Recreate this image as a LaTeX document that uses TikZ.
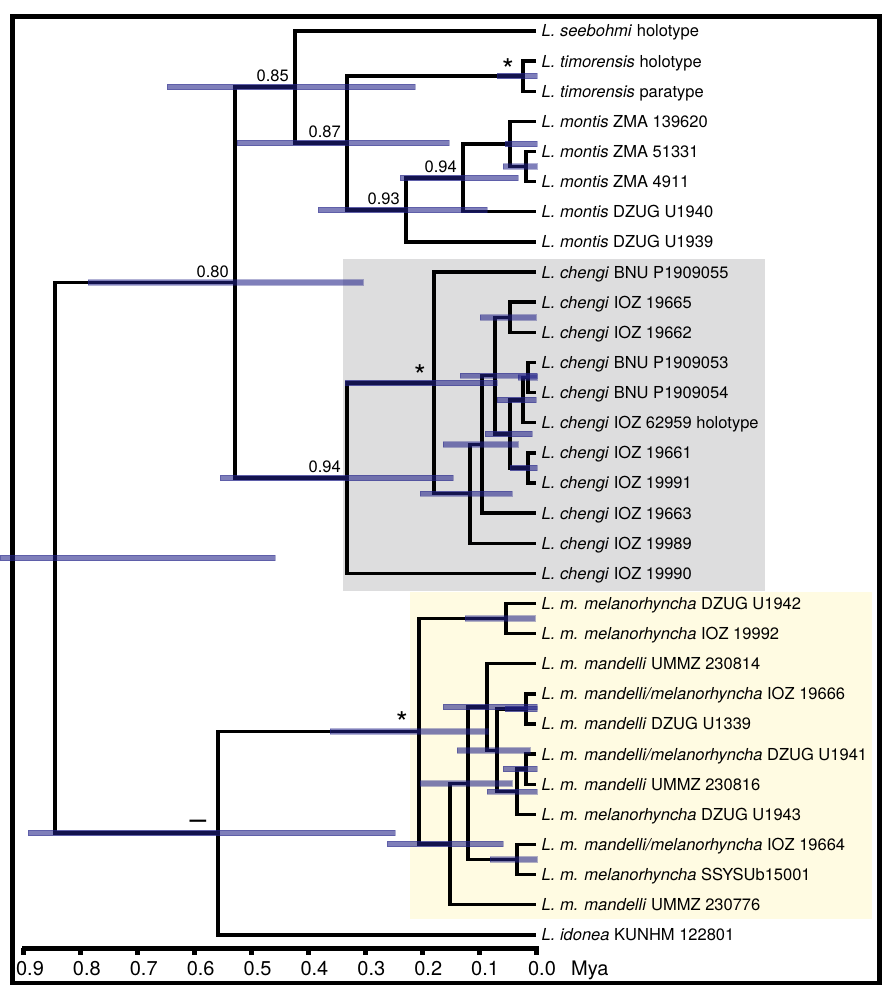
\documentclass[tikz,border=0pt]{standalone}
\usepackage{fontspec}
\setmainfont{TeX Gyre Heros}
\definecolor{barc}{RGB}{34,34,136}
\definecolor{graybg}{RGB}{221,221,222}
\definecolor{yellowbg}{RGB}{255,251,226}
\newcommand\errbar[3]{\path[hpd] (#1,{rowy(#3)-2.7}) rectangle (#2,{rowy(#3)+2.7});}
\begin{document}
\begin{tikzpicture}[x=1pt,y=-1pt,
  declare function={rowy(\q)=31+(\q-1)*30.13;},
  br/.style={line width=3.4pt, line join=miter},
  hpd/.style={fill=barc, fill opacity=0.58, draw=barc, draw opacity=0.35, line width=0.8pt},
  leaf/.style={anchor=base west, inner sep=0pt, font=\fontsize{16.5}{18}\selectfont},
  sup/.style={anchor=south east, inner sep=0pt, font=\fontsize{16.5}{18}\selectfont},
  starl/.style={anchor=base, inner sep=0pt, font=\fontsize{30}{32}\selectfont},
  axl/.style={anchor=base, inner sep=0pt, font=\fontsize{20}{22}\selectfont}]
\useasboundingbox (0,0) rectangle (890,998);
% backgrounds
\fill[graybg] (343,259) rectangle (765,591);
\fill[yellowbg] (410,592) rectangle (872,919);
% frame
\draw[line width=4.5pt] (12.5,16.5) rectangle (879.5,983);
% tips
\foreach \k in {1,...,31} {\coordinate (t\k) at (536,{rowy(\k)});}
% internal nodes
\coordinate (nT) at (523,{rowy(2.5)});
\coordinate (nZ2) at (526,{rowy(5.5)});
\coordinate (nZ1) at (510,{rowy(4.75)});
\coordinate (nM94) at (463,{rowy(5.875)});
\coordinate (nM93) at (406,{rowy(6.9375)});
\coordinate (n87) at (347,{rowy(4.71875)});
\coordinate (n85) at (295,{rowy(2.859375)});
\coordinate (nh) at (528,{rowy(12.5)});
\coordinate (nf) at (523,{rowy(13.25)});
\coordinate (ng) at (528,{rowy(15.5)});
\coordinate (ne) at (510,{rowy(14.375)});
\coordinate (nd) at (510,{rowy(10.5)});
\coordinate (nc) at (495,{rowy(12.4375)});
\coordinate (nb) at (482,{rowy(14.71875)});
\coordinate (na) at (470,{rowy(16.359375)});
\coordinate (ns) at (434,{rowy(12.6796875)});
\coordinate (nc0) at (347,{rowy(15.83984375)});
\coordinate (n80) at (235,{rowy(9.349609375)});
\coordinate (b1) at (506,{rowy(20.5)});
\coordinate (bm1) at (526,{rowy(23.5)});
\coordinate (bm2) at (526,{rowy(25.5)});
\coordinate (bx) at (517,{rowy(26.25)});
\coordinate (by) at (497,{rowy(24.875)});
\coordinate (bz) at (487,{rowy(23.4375)});
\coordinate (bw) at (517,{rowy(28.5)});
\coordinate (bv) at (468,{rowy(25.96875)});
\coordinate (bu) at (450,{rowy(27.984375)});
\coordinate (bs) at (419,{rowy(24.2421875)});
\coordinate (bd) at (218,{rowy(27.62109375)});
\coordinate (root) at (55,{rowy(18.4853515625)});
% branches
\draw[br] (t2) -| (nT) |- (t3);
\draw[br] (t5) -| (nZ2) |- (t6);
\draw[br] (t4) -| (nZ1) |- (nZ2);
\draw[br] (nZ1) -| (nM94) |- (t7);
\draw[br] (nM94) -| (nM93) |- (t8);
\draw[br] (nT) -| (n87) |- (nM93);
\draw[br] (t1) -| (n85) |- (n87);
\draw[br] (t12) -| (nh) |- (t13);
\draw[br] (nh) -| (nf) |- (t14);
\draw[br] (t15) -| (ng) |- (t16);
\draw[br] (nf) -| (ne) |- (ng);
\draw[br] (t10) -| (nd) |- (t11);
\draw[br] (nd) -| (nc) |- (ne);
\draw[br] (nc) -| (nb) |- (t17);
\draw[br] (nb) -| (na) |- (t18);
\draw[br] (t9) -| (ns) |- (na);
\draw[br] (ns) -| (nc0) |- (t19);
\draw[br] (n85) -| (n80) |- (nc0);
\draw[br] (t20) -| (b1) |- (t21);
\draw[br] (t23) -| (bm1) |- (t24);
\draw[br] (t25) -| (bm2) |- (t26);
\draw[br] (bm2) -| (bx) |- (t27);
\draw[br] (bm1) -| (by) |- (bx);
\draw[br] (t22) -| (bz) |- (by);
\draw[br] (t28) -| (bw) |- (t29);
\draw[br] (bz) -| (bv) |- (bw);
\draw[br] (bv) -| (bu) |- (t30);
\draw[br] (b1) -| (bs) |- (bu);
\draw[br] (bs) -| (bd) |- (t31);
\draw[br] (n80) -| (root) |- (bd);
% HPD bars
\errbar{0}{275}{18.4853515625}
\errbar{88}{363}{9.349609375}
\errbar{167}{415}{2.859375}
\errbar{237}{449}{4.71875}
\errbar{497}{537}{2.5}
\errbar{318}{487}{6.9375}
\errbar{400}{518}{5.875}
\errbar{505}{537}{4.75}
\errbar{503}{537}{5.5}
\errbar{220}{453}{15.83984375}
\errbar{345}{497}{12.6796875}
\errbar{420}{512}{16.359375}
\errbar{443}{518}{14.71875}
\errbar{460}{537}{12.4375}
\errbar{480}{536}{10.5}
\errbar{485}{532}{14.375}
\errbar{497}{536}{13.25}
\errbar{518}{537}{12.5}
\errbar{510}{537}{15.5}
\errbar{28}{395}{27.62109375}
\errbar{330}{488}{24.2421875}
\errbar{465}{535}{20.5}
\errbar{387}{503}{27.984375}
\errbar{420}{512}{25.96875}
\errbar{490}{537}{28.5}
\errbar{443}{537}{23.4375}
\errbar{457}{530}{24.875}
\errbar{505}{537}{23.5}
\errbar{487}{537}{26.25}
\errbar{503}{537}{25.5}
% support values
\node[sup] (s85) at ([xshift=-6pt,yshift=5pt]n85) {0.85};
\node[sup] (s87) at ([xshift=-6pt,yshift=5pt]n87) {0.87};
\node[sup] (s93) at ([xshift=-6pt,yshift=5pt]nM93) {0.93};
\node[sup] (s94a) at ([xshift=-6pt,yshift=5pt]nM94) {0.94};
\node[sup] (s80) at ([xshift=-6pt,yshift=5pt]n80) {0.80};
\node[sup] (s94b) at ([xshift=-6pt,yshift=5pt]nc0) {0.94};
\node[starl] (st1) at ([xshift=-15pt,yshift=-4pt]nT) {*};
\node[starl] (st2) at ([xshift=-14pt,yshift=-4pt]ns) {*};
\node[starl] (st3) at ([xshift=-17pt,yshift=-2pt]bs) {*};
\node[starl] (dash) at ([xshift=-20pt,yshift=4pt]bd) {–};
% leaf labels
\node[leaf] (l1) at (541.5,{rowy(1)+6}) {\textit{L. seebohmi} holotype};
\node[leaf] (l2) at (541.5,{rowy(2)+6}) {\textit{L. timorensis} holotype};
\node[leaf] (l3) at (541.5,{rowy(3)+6}) {\textit{L. timorensis} paratype};
\node[leaf] (l4) at (541.5,{rowy(4)+6}) {\textit{L. montis} ZMA 139620};
\node[leaf] (l5) at (541.5,{rowy(5)+6}) {\textit{L. montis} ZMA 51331};
\node[leaf] (l6) at (541.5,{rowy(6)+6}) {\textit{L. montis} ZMA 4911};
\node[leaf] (l7) at (541.5,{rowy(7)+6}) {\textit{L. montis} DZUG U1940};
\node[leaf] (l8) at (541.5,{rowy(8)+6}) {\textit{L. montis} DZUG U1939};
\node[leaf] (l9) at (541.5,{rowy(9)+6}) {\textit{L. chengi} BNU P1909055};
\node[leaf] (l10) at (541.5,{rowy(10)+6}) {\textit{L. chengi} IOZ 19665};
\node[leaf] (l11) at (541.5,{rowy(11)+6}) {\textit{L. chengi} IOZ 19662};
\node[leaf] (l12) at (541.5,{rowy(12)+6}) {\textit{L. chengi} BNU P1909053};
\node[leaf] (l13) at (541.5,{rowy(13)+6}) {\textit{L. chengi} BNU P1909054};
\node[leaf] (l14) at (541.5,{rowy(14)+6}) {\textit{L. chengi} IOZ 62959 holotype};
\node[leaf] (l15) at (541.5,{rowy(15)+6}) {\textit{L. chengi} IOZ 19661};
\node[leaf] (l16) at (541.5,{rowy(16)+6}) {\textit{L. chengi} IOZ 19991};
\node[leaf] (l17) at (541.5,{rowy(17)+6}) {\textit{L. chengi} IOZ 19663};
\node[leaf] (l18) at (541.5,{rowy(18)+6}) {\textit{L. chengi} IOZ 19989};
\node[leaf] (l19) at (541.5,{rowy(19)+6}) {\textit{L. chengi} IOZ 19990};
\node[leaf] (l20) at (541.5,{rowy(20)+6}) {\textit{L. m. melanorhyncha} DZUG U1942};
\node[leaf] (l21) at (541.5,{rowy(21)+6}) {\textit{L. m. melanorhyncha} IOZ 19992};
\node[leaf] (l22) at (541.5,{rowy(22)+6}) {\textit{L. m. mandelli} UMMZ 230814};
\node[leaf] (l23) at (541.5,{rowy(23)+6}) {\textit{L. m. mandelli/melanorhyncha} IOZ 19666};
\node[leaf] (l24) at (541.5,{rowy(24)+6}) {\textit{L. m. mandelli} DZUG U1339};
\node[leaf] (l25) at (541.5,{rowy(25)+6}) {\textit{L. m. mandelli/melanorhyncha} DZUG U1941};
\node[leaf] (l26) at (541.5,{rowy(26)+6}) {\textit{L. m. mandelli} UMMZ 230816};
\node[leaf] (l27) at (541.5,{rowy(27)+6}) {\textit{L. m. melanorhyncha} DZUG U1943};
\node[leaf] (l28) at (541.5,{rowy(28)+6}) {\textit{L. m. mandelli/melanorhyncha} IOZ 19664};
\node[leaf] (l29) at (541.5,{rowy(29)+6}) {\textit{L. m. melanorhyncha} SSYSUb15001};
\node[leaf] (l30) at (541.5,{rowy(30)+6}) {\textit{L. m. mandelli} UMMZ 230776};
\node[leaf] (l31) at (541.5,{rowy(31)+6}) {\textit{L. idonea} KUNHM 122801};
% time axis
\draw[line width=5pt] (22,948) -- (538.5,948);
\foreach \k/\lab in {0/0.0,1/0.1,2/0.2,3/0.3,4/0.4,5/0.5,6/0.6,7/0.7,8/0.8,9/0.9} {
  \fill ({536-56.89*\k-2.5},948) rectangle ({536-56.89*\k+2.5},955);
  \node[axl] (ax\k) at ({536-56.89*\k+6},975) {\lab};
}
\node[axl, anchor=base west] (mya) at (571,975) {Mya};
\end{tikzpicture}
\end{document}
